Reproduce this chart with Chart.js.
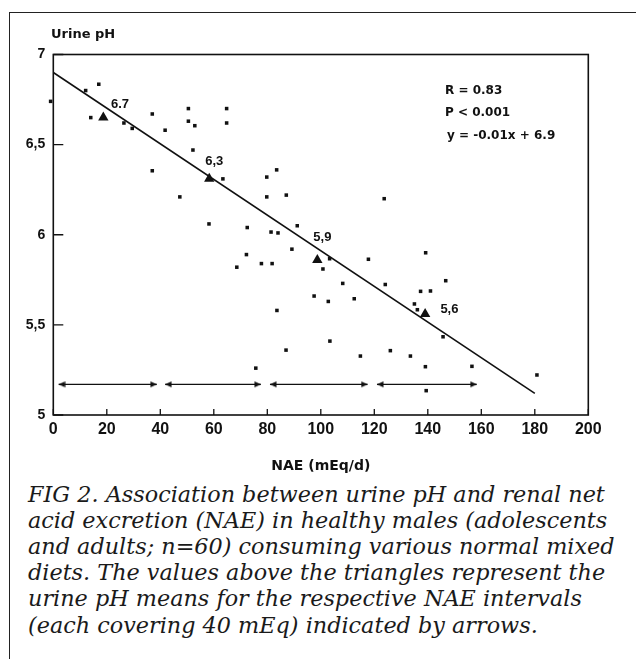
<!DOCTYPE html>
<html>
<head>
<meta charset="utf-8">
<script src="https://cdn.jsdelivr.net/npm/chart.js@4.4.1/dist/chart.umd.min.js"></script>
<style>
  html, body { margin:0; padding:0; background:#fff; }
  body { width:636px; height:659px; position:relative; overflow:hidden; }
  #frame { position:absolute; left:9px; top:12px; width:700px; height:700px;
           border-left:1.5px solid #222; border-top:1.5px solid #222; }
  #wrap { position:absolute; left:0; top:0; width:636px; height:480px; }
  .sans { position:absolute; font-family:"DejaVu Sans", sans-serif; font-weight:bold; color:#111; white-space:nowrap; }
  .cap { position:absolute; left:28px; font-family:"DejaVu Serif", serif; font-style:italic; color:#1a1a1a; white-space:pre; }
</style>
</head>
<body>
<div id="frame"></div>
<div id="wrap"><canvas id="c" width="636" height="480"></canvas></div>
<div class="sans" id="ytitle" style="left:51px; top:25.5px; font-size:13px; line-height:15px;">Urine pH</div>
<div class="sans" style="left:445px; top:82.5px; font-size:12px; line-height:14px;">R = 0.83</div>
<div class="sans" style="left:445px; top:105px; font-size:12px; line-height:14px;">P &lt; 0.001</div>
<div class="sans" style="left:447px; top:128.3px; font-size:12px; line-height:14px;">y = -0.01x + 6.9</div>
<div id="caption"></div>
<script>
// ---- data ----
const naeValues = [-1, 12.1, 17.0, 14.0, 26.4, 29.5, 37.0, 41.8, 50.5, 50.5,
  52.9, 52.2, 37.0, 47.3, 63.4, 58.2, 64.8, 64.8, 79.8, 83.5,
  79.8, 87.1, 123.7, 72.5, 81.4, 84.0, 91.2, 89.2, 72.2, 68.6,
  77.8, 81.8, 103.3, 100.8, 117.8, 108.2, 124.1, 97.5, 102.8, 112.5,
  83.6, 103.4, 87.0, 126.0, 114.8, 75.7, 139.2, 146.7, 137.3, 141.0,
  135.0, 136.1, 145.7, 133.5, 139.1, 156.5, 180.8, 139.4];
const phValues = [6.74, 6.80, 6.835, 6.65, 6.62, 6.59, 6.67, 6.58, 6.70, 6.63,
  6.605, 6.47, 6.355, 6.21, 6.31, 6.06, 6.70, 6.62, 6.32, 6.36,
  6.21, 6.22, 6.20, 6.04, 6.015, 6.01, 6.05, 5.92, 5.89, 5.82,
  5.84, 5.84, 5.867, 5.81, 5.864, 5.73, 5.724, 5.66, 5.63, 5.645,
  5.58, 5.41, 5.36, 5.357, 5.327, 5.26, 5.90, 5.745, 5.686, 5.688,
  5.616, 5.584, 5.434, 5.327, 5.268, 5.27, 5.222, 5.135];
const meanNae = [18.7, 58.3, 98.7, 139.0];
const meanPh = [6.65, 6.31, 5.86, 5.56];
const meanLabels = ["6.7", "6,3", "5,9", "5,6"];
const fitX = [0, 180];
const fitY = [6.9, 5.12];
const arrowStart = [2, 41.8, 81, 121];
const arrowEnd = [38.7, 77.6, 117.5, 158.3];
const arrowPh = 5.17;
const xTickValues = [0, 20, 40, 60, 80, 100, 120, 140, 160, 180, 200];
const yTickValues = [5, 5.5, 6, 6.5, 7];
const captionLines = [
  "FIG 2. Association between urine pH and renal net",
  "acid excretion (NAE) in healthy males (adolescents",
  "and adults; n=60) consuming various normal mixed",
  "diets. The values above the triangles represent the",
  "urine pH means for the respective NAE intervals",
  "(each covering 40 mEq) indicated by arrows."
];

// ---- styling (not data) ----
const INK = '#111';
const labelOffsets = [[16.7, -12.7], [5, -17.3], [5, -22.7], [24.3, -4.3]];

function makeHead(dir) {
  const cv = document.createElement('canvas');
  cv.width = 14; cv.height = 8;
  const g = cv.getContext('2d');
  g.fillStyle = INK;
  g.beginPath();
  if (dir > 0) { g.moveTo(7, 4); g.lineTo(0.5, 1); g.lineTo(0.5, 7); }
  else { g.moveTo(7, 4); g.lineTo(13.5, 1); g.lineTo(13.5, 7); }
  g.closePath(); g.fill();
  return cv;
}
const headL = makeHead(-1), headR = makeHead(1);

const datasets = [];
datasets.push({
  data: naeValues.map((x, i) => ({x, y: phValues[i]})),
  pointStyle: 'rect', pointRadius: 2.5, pointBackgroundColor: INK, pointBorderWidth: 0,
  showLine: false, clip: false
});
datasets.push({
  data: meanNae.map((x, i) => ({x, y: meanPh[i]})),
  pointStyle: 'triangle', pointRadius: 6, pointBackgroundColor: INK, pointBorderWidth: 0,
  showLine: false, clip: false
});
datasets.push({
  data: fitX.map((x, i) => ({x, y: fitY[i]})),
  showLine: true, borderColor: INK, borderWidth: 1.6, pointRadius: 0, clip: false
});
arrowStart.forEach((s, i) => {
  datasets.push({
    data: [{x: s, y: arrowPh}, {x: arrowEnd[i], y: arrowPh}],
    showLine: true, borderColor: INK, borderWidth: 1.2,
    pointRadius: 4, pointBorderWidth: 0,
    pointStyle: (ctx) => ctx.dataIndex === 0 ? headL : headR,
    clip: false
  });
});

const decor = {
  id: 'decor',
  afterDraw(chart) {
    const {ctx, chartArea: a, scales: {x, y}} = chart;
    ctx.save();
    ctx.strokeStyle = INK;
    ctx.lineWidth = 1.6;
    ctx.strokeRect(a.left, a.top, a.right - a.left, a.bottom - a.top);
    ctx.lineWidth = 1.3;
    ctx.beginPath();
    yTickValues.forEach(v => {
      const py = y.getPixelForValue(v);
      ctx.moveTo(a.left, py); ctx.lineTo(a.left + 10, py);
    });
    xTickValues.forEach(v => {
      const px = x.getPixelForValue(v);
      ctx.moveTo(px, a.bottom); ctx.lineTo(px, a.bottom - 6);
    });
    ctx.stroke();
    ctx.fillStyle = INK;
    ctx.font = 'bold 13px "Liberation Sans", Arial, sans-serif';
    ctx.textAlign = 'center';
    ctx.textBaseline = 'middle';
    meanLabels.forEach((t, i) => {
      const px = x.getPixelForValue(meanNae[i]) + labelOffsets[i][0];
      const py = y.getPixelForValue(meanPh[i]) + labelOffsets[i][1];
      ctx.fillText(t, px, py);
    });
    ctx.restore();
  }
};

new Chart(document.getElementById('c'), {
  type: 'scatter',
  data: { datasets },
  options: {
    responsive: false,
    animation: false,
    events: [],
    layout: { padding: { left: 0, top: 54.5, right: 47.7, bottom: 0 } },
    plugins: { legend: { display: false }, tooltip: { enabled: false } },
    scales: {
      x: {
        type: 'linear', min: 0, max: 200,
        afterBuildTicks: (s) => { s.ticks = xTickValues.map(v => ({value: v})); },
        afterFit: (s) => { s.height = 65; },
        grid: { display: false, drawTicks: false },
        border: { display: false },
        ticks: { padding: 5, color: INK, maxRotation: 0, autoSkip: false,
                 font: { family: '"Liberation Sans", Arial, sans-serif', weight: 'bold', size: 16 } },
        title: { display: true, text: 'NAE (mEq/d)', color: INK, padding: { top: 0, bottom: 5 },
                 font: { family: '"DejaVu Sans", sans-serif', weight: 'bold', size: 14 } }
      },
      y: {
        type: 'linear', min: 5, max: 7,
        afterBuildTicks: (s) => { s.ticks = yTickValues.map(v => ({value: v})); },
        afterFit: (s) => { s.width = 53.3; },
        grid: { display: false, drawTicks: false },
        border: { display: false },
        ticks: { padding: 8, color: INK, autoSkip: false,
                 callback: (v) => String(v).replace('.', ','),
                 font: { family: '"Liberation Sans", Arial, sans-serif', weight: 'bold', size: 14 } }
      }
    }
  },
  plugins: [decor]
});

// ---- caption (HTML text), fitted to the reference line width ----
(function () {
  const family = '"DejaVu Serif", serif';
  const m = document.createElement('canvas').getContext('2d');
  m.font = 'italic 20px ' + family;
  const w20 = m.measureText(captionLines[0]).width;
  const size = 20 * 577 / w20;
  m.font = 'italic ' + size + 'px ' + family;
  const mt = m.measureText(captionLines[0]);
  const asc = mt.fontBoundingBoxAscent, desc = mt.fontBoundingBoxDescent;
  const L = 26.2;
  const baseOff = (L - (asc + desc)) / 2 + asc;
  const cap = document.getElementById('caption');
  captionLines.forEach((t, i) => {
    const d = document.createElement('div');
    d.className = 'cap';
    d.textContent = t;
    d.style.fontSize = size + 'px';
    d.style.lineHeight = L + 'px';
    d.style.top = (501.7 + i * L - baseOff) + 'px';
    cap.appendChild(d);
  });
})();
</script>
</body>
</html>
